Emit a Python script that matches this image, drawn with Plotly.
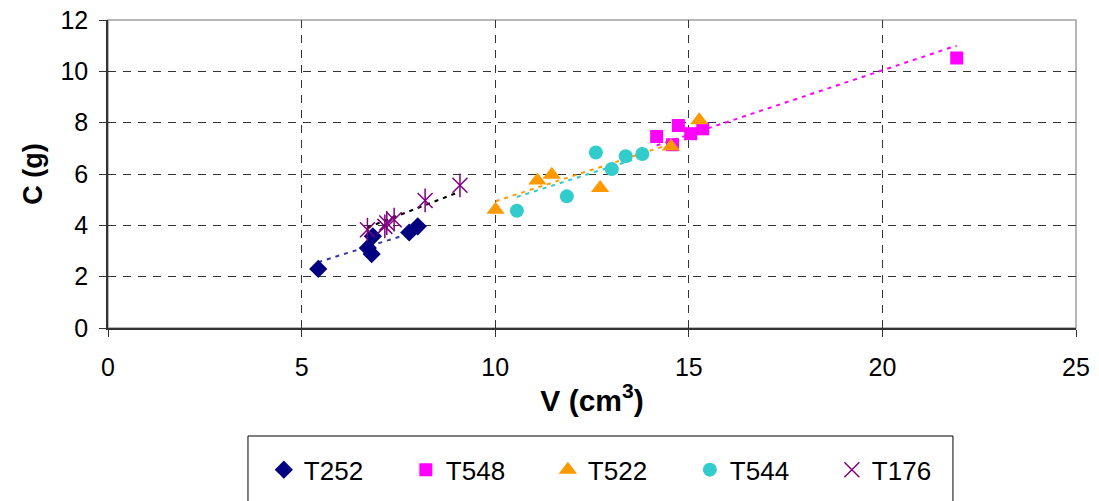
import plotly.graph_objects as go
import numpy as np

# ---- data ----
t252_v = [5.43, 6.71, 6.81, 6.84, 7.78, 8.00]
t252_c = [2.30, 3.12, 2.88, 3.57, 3.72, 3.96]
t548_v = [14.17, 14.58, 14.73, 15.05, 15.36, 21.92]
t548_c = [7.46, 7.14, 7.89, 7.57, 7.76, 10.52]
t522_v = [10.01, 11.09, 11.46, 12.71, 14.54, 15.27]
t522_c = [4.61, 5.75, 5.97, 5.45, 7.07, 8.09]
t544_v = [10.56, 11.85, 12.60, 13.01, 13.37, 13.80]
t544_c = [4.57, 5.13, 6.84, 6.19, 6.69, 6.78]
t176_v = [6.70, 7.15, 7.20, 7.39, 8.19, 9.09]
t176_c = [3.83, 3.96, 4.09, 4.22, 4.97, 5.56]

x_ticks = [0, 5, 10, 15, 20, 25]
y_ticks = [0, 2, 4, 6, 8, 10, 12]

FONT = "Arial, Liberation Sans, sans-serif"

series = [
    ("T252", t252_v, t252_c, "#000080", "diamond", 14, "#3838A8"),
    ("T548", t548_v, t548_c, "#FF00FF", "square", 13, "#FF00FF"),
    ("T522", t522_v, t522_c, "#FF9900", "triangle-up", 16, "#FF9900"),
    ("T544", t544_v, t544_c, "#33CCCC", "circle", 14, "#33CCCC"),
    ("T176", t176_v, t176_c, "#800080", "x-thin-open", 15, "#000000"),
]

fig = go.Figure()

# trendlines (linear, through origin) over each series' range
for name, xv, yv, col, sym, size, tcol in series:
    xa = np.array(xv)
    ya = np.array(yv)
    slope = (xa * ya).sum() / (xa * xa).sum()
    xs = np.array([xa.min(), xa.max()])
    fig.add_trace(go.Scatter(
        x=xs, y=slope * xs, mode="lines", showlegend=False, hoverinfo="skip",
        line=dict(color=tcol, width=2, dash="4px,5px")))

for name, xv, yv, col, sym, size, tcol in series:
    if sym == "x-thin-open":
        fig.add_trace(go.Scatter(
            x=xv, y=yv, mode="markers", name=name, legendgroup=name,
            marker=dict(symbol=sym, size=size, color=col, line=dict(color=col, width=1.5))))
        fig.add_trace(go.Scatter(
            x=xv, y=yv, mode="markers", name=name, legendgroup=name, showlegend=False,
            marker=dict(symbol="line-ns-open", size=size + 2, color=col, line=dict(color=col, width=1.5))))
    else:
        fig.add_trace(go.Scatter(
            x=xv, y=yv, mode="markers", name=name,
            marker=dict(symbol=sym, size=size, color=col, line=dict(width=0))))

# invisible trace to hold the overlay axes (inside ticks + grid)
fig.add_trace(go.Scatter(x=[None], y=[None], xaxis="x2", yaxis="y2",
                         showlegend=False, hoverinfo="skip"))

fig.update_layout(
    width=1091, height=493,
    margin=dict(l=100, r=23, t=12, b=173, autoexpand=False),
    paper_bgcolor="white", plot_bgcolor="white",
    font=dict(family=FONT, color="black"),
    xaxis=dict(range=[0, 25], tickvals=x_ticks, ticks="outside", ticklen=7,
               tickcolor="#333333", showline=True, linecolor="#333333", linewidth=1.5,
               showgrid=False, zeroline=False, tickfont=dict(size=25),
               ticklabelstandoff=9, automargin=False, ticklabeloverflow="allow",
               title=dict(text="<b>V (cm<sup>3</sup>)</b>", font=dict(size=30), standoff=10)),
    yaxis=dict(range=[0, 12], tickvals=y_ticks, ticks="outside", ticklen=7,
               tickcolor="#333333", showline=True, linecolor="#333333", linewidth=1.5,
               showgrid=False, zeroline=False, tickfont=dict(size=25),
               ticklabelstandoff=6, automargin=False, ticklabeloverflow="allow",
               title=dict(text="<b>C (g)</b>", font=dict(size=27), standoff=10)),
    xaxis2=dict(range=[0, 25], overlaying="x", anchor="y2", side="bottom",
                tickvals=x_ticks[1:-1], ticks="inside", ticklen=7, tickcolor="#333333",
                showticklabels=False, showline=False, zeroline=False, automargin=False,
                showgrid=True, gridcolor="#333333", gridwidth=1, griddash="8px,7px"),
    yaxis2=dict(range=[0, 12], overlaying="y", anchor="x2", side="left",
                tickvals=y_ticks[1:-1], ticks="inside", ticklen=7, tickcolor="#333333",
                showticklabels=False, showline=False, zeroline=False, automargin=False,
                showgrid=True, gridcolor="#333333", gridwidth=1, griddash="8px,7px"),
    legend=dict(orientation="h", x=0.161, xanchor="left", y=-0.384, yanchor="top",
                font=dict(size=26), bgcolor="rgba(0,0,0,0)", borderwidth=0,
                entrywidth=97, entrywidthmode="pixels", traceorder="normal"),
    shapes=[
        dict(type="rect", xref="paper", yref="paper", x0=0, x1=1, y0=0, y1=1,
             line=dict(color="#A0A0A0", width=1.5), layer="below"),
        dict(type="rect", xref="paper", yref="paper", x0=0.1446, x1=0.8729,
             y0=-0.3506, y1=-0.75, line=dict(color="black", width=1), layer="above"),
    ],
)

fig.write_html("out.html")
